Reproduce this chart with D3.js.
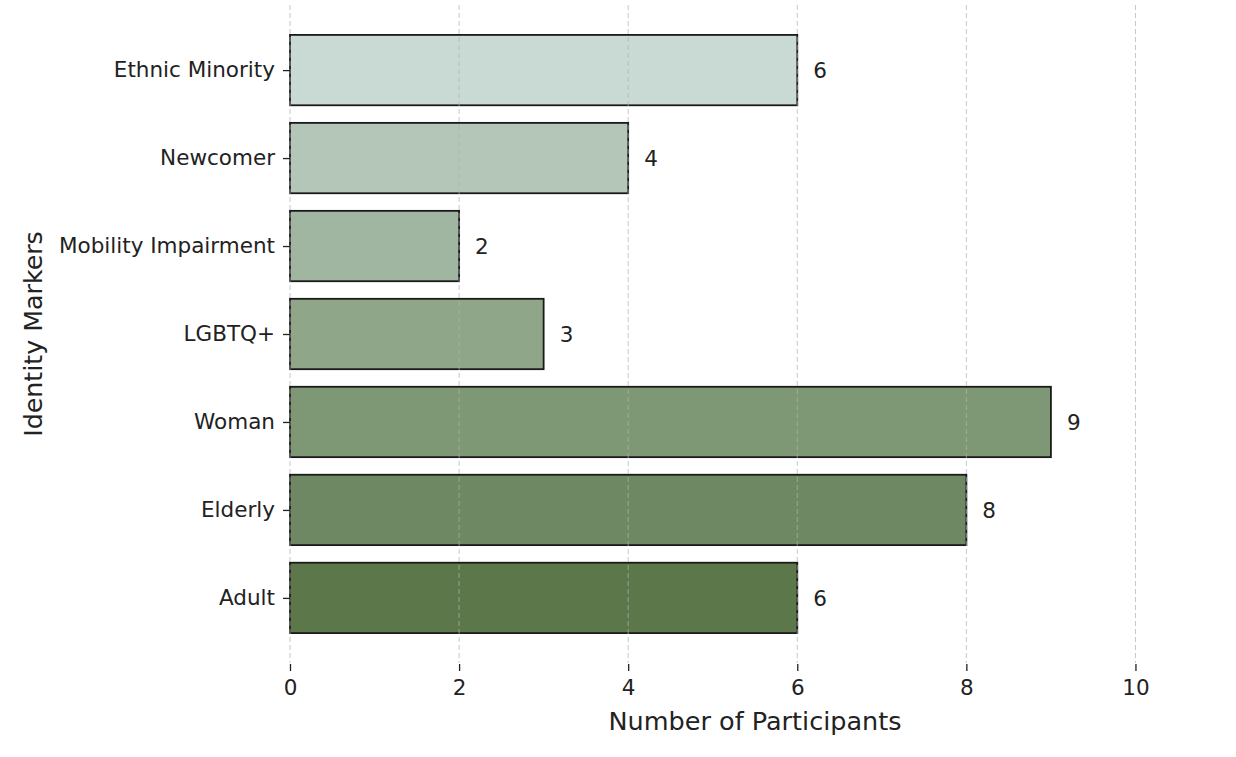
<!DOCTYPE html>
<html><head><meta charset="utf-8">
<script src="https://cdn.jsdelivr.net/npm/d3@7"></script>
<style>body{margin:0;background:#fff}</style>
</head><body>
<svg id="c" width="1236" height="757"></svg>
<script>
const categories = ["Ethnic Minority","Newcomer","Mobility Impairment","LGBTQ+","Woman","Elderly","Adult"];
const values = [6,4,2,3,9,8,6];
const colors = ["#c9d9d3","#b4c6b8","#a1b6a0","#8fa788","#7e9775","#6d8862","#5c784b"];
const xTicks = [0,2,4,6,8,10];

(function(){
const svg = d3.select("#c");
const mLeft = 290, mRight = 1220, mTop = 5, mBottom = 663;
const x = d3.scaleLinear().domain([0,11]).range([mLeft,mRight]);
const y = d3.scaleLinear().domain([-0.74, 6.74]).range([mTop,mBottom]);
const font = "DejaVu Sans, sans-serif";

svg.append("g").selectAll("rect").data(categories).join("rect")
  .attr("x", x(0))
  .attr("y", (d,i)=>y(i-0.4))
  .attr("width", (d,i)=>x(values[i])-x(0))
  .attr("height", (d,i)=>y(i+0.4)-y(i-0.4))
  .attr("fill", (d,i)=>colors[i])
  .attr("stroke", "#1a1a1a").attr("stroke-width", 1.8);

svg.append("g").selectAll("line").data(xTicks).join("line")
  .attr("x1", d=>x(d)).attr("x2", d=>x(d))
  .attr("y1", mTop).attr("y2", mBottom)
  .attr("stroke", "#b0b0b0").attr("stroke-opacity", 0.7)
  .attr("stroke-width", 1).attr("stroke-dasharray", "5,3");

svg.append("g").selectAll("text").data(categories).join("text")
  .attr("x", (d,i)=>x(values[i])+16)
  .attr("y", (d,i)=>y(i))
  .attr("dy", "0.36em")
  .attr("font-family", font).attr("font-size", 21.5).attr("fill", "#222")
  .text((d,i)=>values[i]);

const xAxis = d3.axisBottom(x).tickValues(xTicks).tickSize(7).tickPadding(9).tickFormat(d3.format("d"));
const gx = svg.append("g").attr("transform", `translate(0,${mBottom+1})`).call(xAxis);
gx.select(".domain").remove();
gx.selectAll("line").attr("stroke", "#222").attr("stroke-width", 1.3);
gx.selectAll("text").attr("font-family", font).attr("font-size", 21.5).attr("fill", "#222");

const yAxis = d3.axisLeft(y).tickValues(d3.range(categories.length)).tickFormat(i=>categories[i]).tickSize(7).tickPadding(8);
const gy = svg.append("g").attr("transform", `translate(${mLeft},0)`).call(yAxis);
gy.select(".domain").remove();
gy.selectAll("line").attr("stroke", "#222").attr("stroke-width", 1.3);
gy.selectAll("text").attr("font-family", font).attr("font-size", 21.5).attr("fill", "#222");

svg.append("text").attr("x", x(5.5)).attr("y", 730)
  .attr("text-anchor","middle").attr("font-family", font).attr("font-size", 25.5).attr("fill","#222")
  .text("Number of Participants");
svg.append("text").attr("transform", `translate(42,${(mTop+mBottom)/2}) rotate(-90)`)
  .attr("text-anchor","middle").attr("font-family", font).attr("font-size", 25.3).attr("fill","#222")
  .text("Identity Markers");
})();
</script>
</body></html>
